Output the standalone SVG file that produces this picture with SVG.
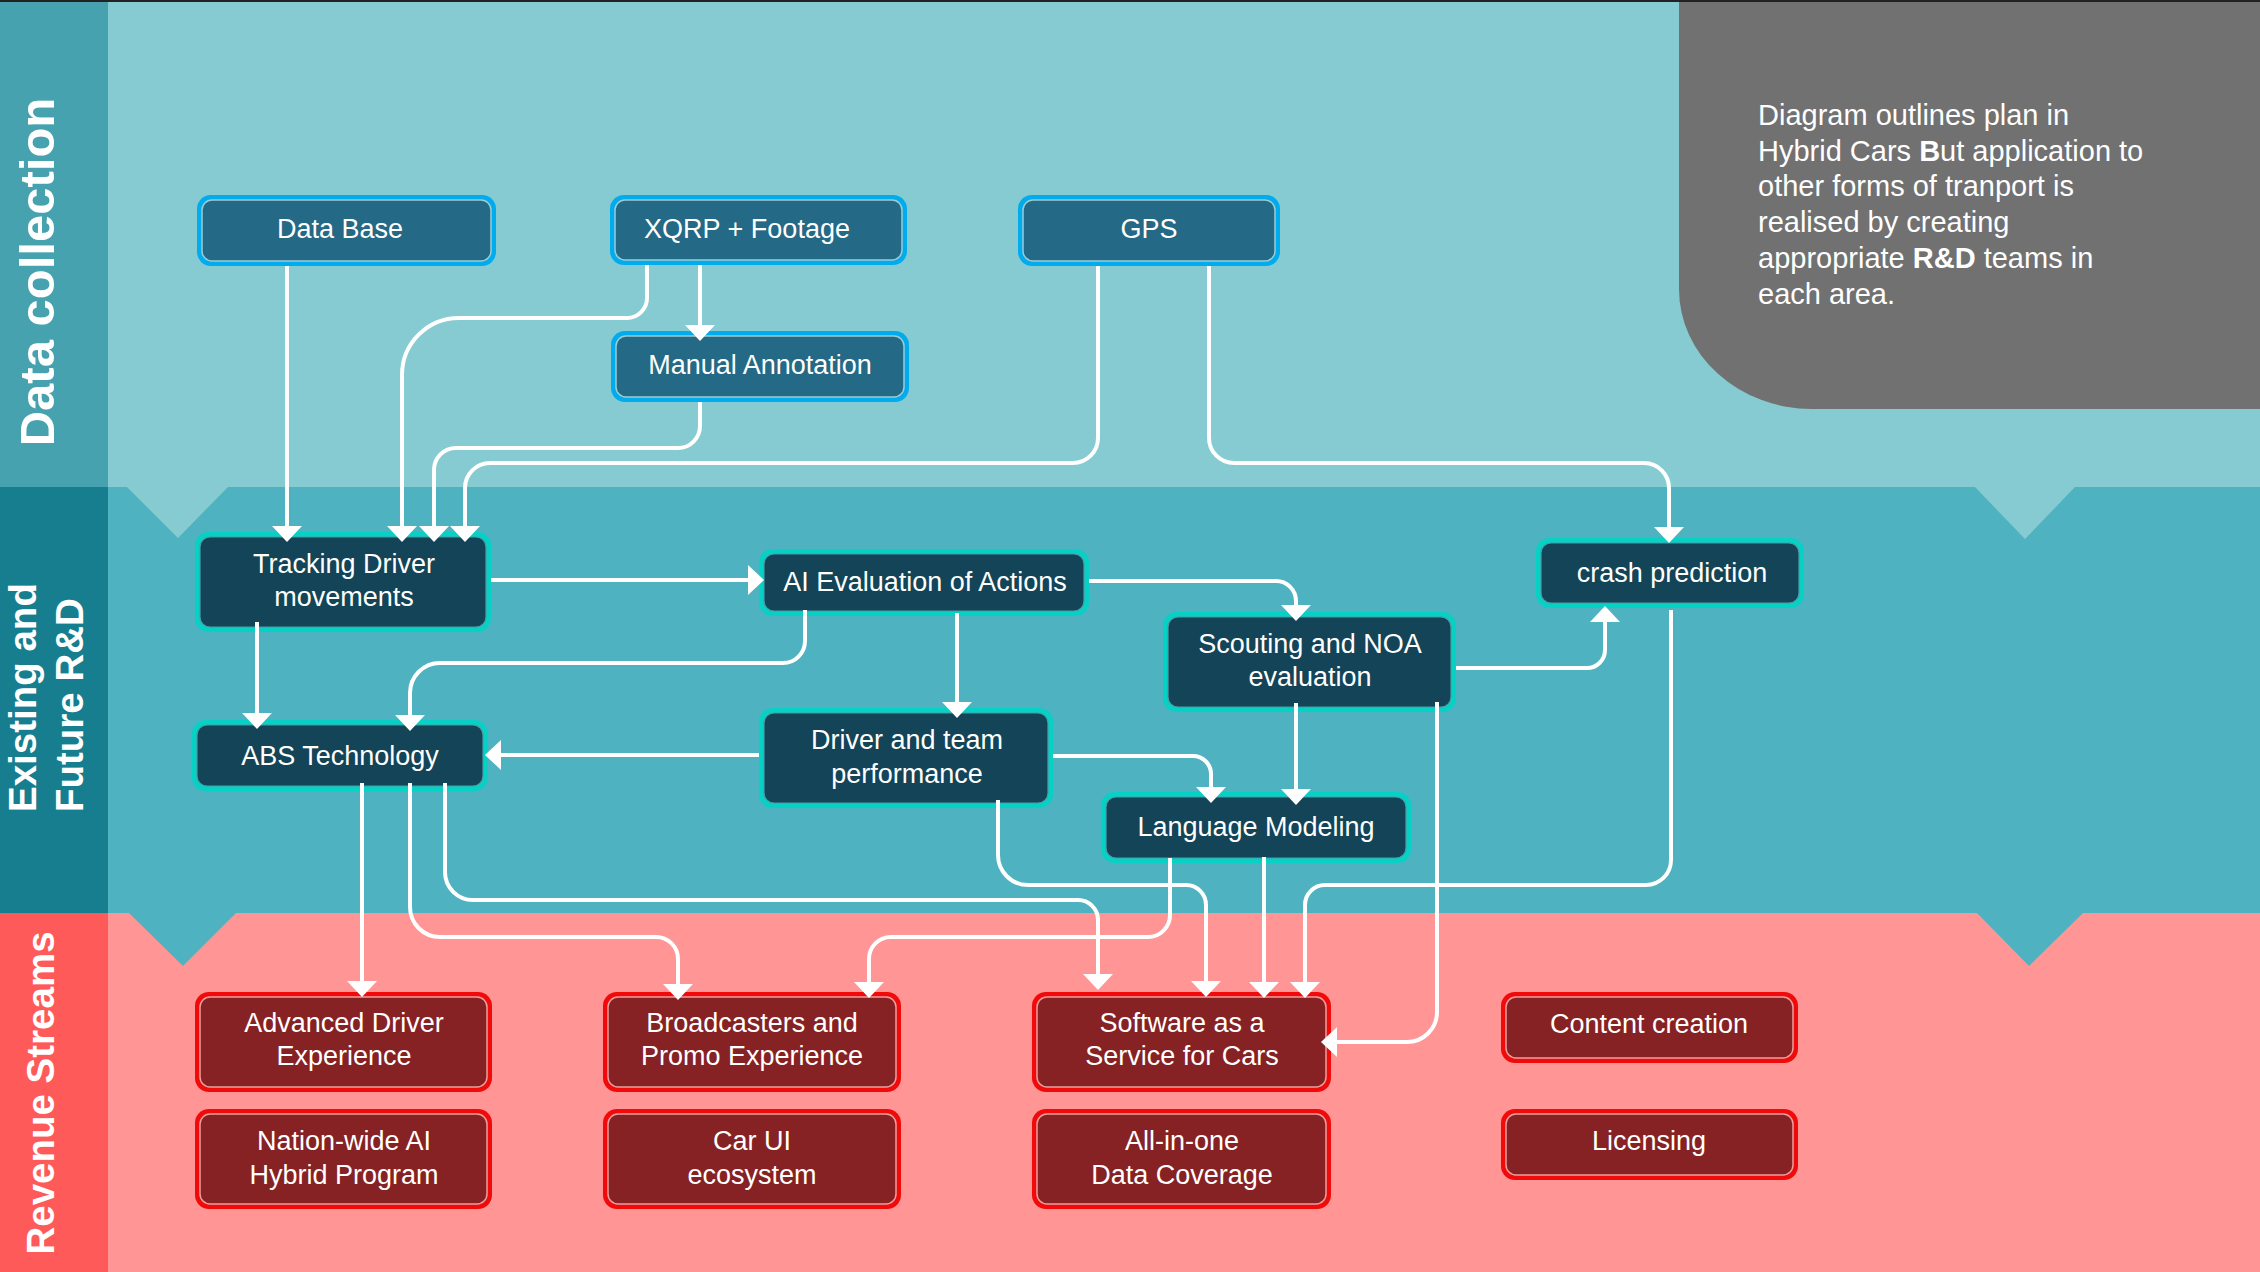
<svg xmlns="http://www.w3.org/2000/svg" width="2260" height="1272" viewBox="0 0 2260 1272">
<defs>
<style>
.lbl{font-family:"Liberation Sans",Arial,sans-serif;font-weight:bold;fill:#fff}
.t{font-family:"Liberation Sans",Arial,sans-serif;font-size:27px;fill:#fff;text-anchor:middle}
.note{font-family:"Liberation Sans",Arial,sans-serif;font-size:29px;fill:#fff}
.dc .o{fill:#00abee}
.dc .i{fill:#246985;stroke:#9ccbd5;stroke-width:1.5}
.rd .o{fill:#05d1c5}
.rd .i{fill:#134457;stroke:#4d9aa5;stroke-width:1.2}
.rv .o{fill:#f00a0a}
.rv .i{fill:#862223;stroke:#eaa0a0;stroke-width:1.5}
.c{fill:none;stroke:#fff;stroke-width:4;marker-end:url(#ah)}
</style>
<marker id="ah" markerUnits="userSpaceOnUse" markerWidth="16" markerHeight="30" refX="8" refY="15" orient="auto" viewBox="0 0 16 30"><path d="M0,0 L16,15 L0,30 Z" fill="#fff"/></marker>
</defs>

<g id="background">
<rect x="0" y="0" width="2260" height="487" fill="#86cbd1"/>
<rect x="0" y="487" width="2260" height="426" fill="#4eb2c0"/>
<rect x="0" y="913" width="2260" height="359" fill="#ff9594"/>
<rect x="0" y="0" width="108" height="487" fill="#45a2ae"/>
<rect x="0" y="487" width="108" height="426" fill="#167e8f"/>
<rect x="0" y="913" width="108" height="359" fill="#ff5a5a"/>
<polygon points="127,487 228,487 178,538" fill="#86cbd1"/>
<polygon points="1975,487 2075,487 2025,539" fill="#86cbd1"/>
<polygon points="129,913 236,913 183,966" fill="#4eb2c0"/>
<polygon points="1977,913 2083,913 2029,966" fill="#4eb2c0"/>
<rect x="0" y="0" width="2260" height="2" fill="#222"/>
<path d="M1679,2 H2260 V409 H1812 A133,120 0 0 1 1679,289 Z" fill="#717171"/>
</g>

<g id="labels">
<text class="lbl" font-size="49" text-anchor="middle" transform="translate(54,272) rotate(-90)">Data collection</text>
<text class="lbl" font-size="38.5" transform="translate(36,812) rotate(-90)">Existing and</text>
<text class="lbl" font-size="38.5" transform="translate(82.7,812) rotate(-90)">Future R&amp;D</text>
<text class="lbl" font-size="38.5" text-anchor="middle" transform="translate(54.3,1093) rotate(-90)">Revenue Streams</text>
</g>

<g id="note">
<text class="note" x="1758" y="125">Diagram outlines plan in</text>
<text class="note" x="1758" y="160.7">Hybrid Cars <tspan font-weight="bold">B</tspan>ut application to</text>
<text class="note" x="1758" y="196.4">other forms of tranport is</text>
<text class="note" x="1758" y="232.1">realised by creating</text>
<text class="note" x="1758" y="267.8">appropriate <tspan font-weight="bold">R&amp;D</tspan> teams in</text>
<text class="note" x="1758" y="303.5">each area.</text>
</g>

<g id="n-database" class="dc"><rect class="o" x="197" y="195" width="299" height="71" rx="14"/><rect class="i" x="202" y="200" width="289" height="61" rx="10"/><text class="t" x="340" y="238">Data Base</text></g>
<g id="n-xqrp" class="dc"><rect class="o" x="610" y="195" width="297" height="70" rx="14"/><rect class="i" x="615" y="200" width="287" height="60" rx="10"/><text class="t" x="747" y="238">XQRP + Footage</text></g>
<g id="n-gps" class="dc"><rect class="o" x="1018" y="195" width="262" height="71" rx="14"/><rect class="i" x="1023" y="200" width="252" height="61" rx="10"/><text class="t" x="1149" y="238">GPS</text></g>
<g id="n-manual" class="dc"><rect class="o" x="611" y="331" width="298" height="71" rx="14"/><rect class="i" x="616" y="336" width="288" height="61" rx="10"/><text class="t" x="760" y="374">Manual Annotation</text></g>

<g id="n-tracking" class="rd"><rect class="o" x="195" y="532" width="296" height="100" rx="14"/><rect class="i" x="200" y="537" width="286" height="90" rx="10"/><text class="t" x="344" y="572.5">Tracking Driver</text><text class="t" x="344" y="605.5">movements</text></g>
<g id="n-ai" class="rd"><rect class="o" x="759" y="549" width="330" height="67" rx="14"/><rect class="i" x="764" y="554" width="320" height="57" rx="10"/><text class="t" x="925" y="590.5">AI Evaluation of Actions</text></g>
<g id="n-scouting" class="rd"><rect class="o" x="1163" y="612" width="293" height="100" rx="14"/><rect class="i" x="1168" y="617" width="283" height="90" rx="10"/><text class="t" x="1310" y="653">Scouting and NOA</text><text class="t" x="1310" y="686">evaluation</text></g>
<g id="n-crash" class="rd"><rect class="o" x="1536" y="538" width="268" height="70" rx="14"/><rect class="i" x="1541" y="543" width="258" height="60" rx="10"/><text class="t" x="1672" y="582">crash prediction</text></g>
<g id="n-abs" class="rd"><rect class="o" x="192" y="720" width="296" height="71" rx="14"/><rect class="i" x="197" y="725" width="286" height="61" rx="10"/><text class="t" x="340" y="764.5">ABS Technology</text></g>
<g id="n-driver" class="rd"><rect class="o" x="759" y="708" width="294" height="100" rx="14"/><rect class="i" x="764" y="713" width="284" height="90" rx="10"/><text class="t" x="907" y="749.3">Driver and team</text><text class="t" x="907" y="783">performance</text></g>
<g id="n-language" class="rd"><rect class="o" x="1101" y="792" width="310" height="71" rx="14"/><rect class="i" x="1106" y="797" width="300" height="61" rx="10"/><text class="t" x="1256" y="836">Language Modeling</text></g>

<g id="n-advanced" class="rv"><rect class="o" x="195" y="992" width="297" height="100" rx="14"/><rect class="i" x="200" y="997" width="287" height="90" rx="10"/><text class="t" x="344" y="1032">Advanced Driver</text><text class="t" x="344" y="1065">Experience</text></g>
<g id="n-broadcasters" class="rv"><rect class="o" x="603" y="992" width="298" height="100" rx="14"/><rect class="i" x="608" y="997" width="288" height="90" rx="10"/><text class="t" x="752" y="1032">Broadcasters and</text><text class="t" x="752" y="1065">Promo Experience</text></g>
<g id="n-software" class="rv"><rect class="o" x="1032" y="992" width="299" height="100" rx="14"/><rect class="i" x="1037" y="997" width="289" height="90" rx="10"/><text class="t" x="1182" y="1032">Software as a</text><text class="t" x="1182" y="1065">Service for Cars</text></g>
<g id="n-content" class="rv"><rect class="o" x="1501" y="992" width="297" height="71" rx="14"/><rect class="i" x="1506" y="997" width="287" height="61" rx="10"/><text class="t" x="1649" y="1033">Content creation</text></g>
<g id="n-nationwide" class="rv"><rect class="o" x="195" y="1109" width="297" height="100" rx="14"/><rect class="i" x="200" y="1114" width="287" height="90" rx="10"/><text class="t" x="344" y="1150">Nation-wide AI</text><text class="t" x="344" y="1183.5">Hybrid Program</text></g>
<g id="n-carui" class="rv"><rect class="o" x="603" y="1109" width="298" height="100" rx="14"/><rect class="i" x="608" y="1114" width="288" height="90" rx="10"/><text class="t" x="752" y="1150">Car UI</text><text class="t" x="752" y="1183.5">ecosystem</text></g>
<g id="n-allinone" class="rv"><rect class="o" x="1032" y="1109" width="299" height="100" rx="14"/><rect class="i" x="1037" y="1114" width="289" height="90" rx="10"/><text class="t" x="1182" y="1150">All-in-one</text><text class="t" x="1182" y="1183.5">Data Coverage</text></g>
<g id="n-licensing" class="rv"><rect class="o" x="1501" y="1109" width="297" height="71" rx="14"/><rect class="i" x="1506" y="1114" width="287" height="61" rx="10"/><text class="t" x="1649" y="1150">Licensing</text></g>

<g id="connectors">
<path class="c" d="M287,266 V534"/>
<path class="c" d="M647,265 V298 A20,20 0 0 1 627,318 H459 A57,57 0 0 0 402,375 V534"/>
<path class="c" d="M700,265 V333"/>
<path class="c" d="M700,402 V426 A22,22 0 0 1 678,448 H456 A22,22 0 0 0 434,470 V534"/>
<path class="c" d="M1098,266 V438 A25,25 0 0 1 1073,463 H490 A25,25 0 0 0 465,488 V534"/>
<path class="c" d="M1209,266 V438 A25,25 0 0 0 1234,463 H1644 A25,25 0 0 1 1669,488 V535"/>
<path class="c" d="M491,580 H756"/>
<path class="c" d="M257,622 V721"/>
<path class="c" d="M805,610 V641 A22,22 0 0 1 783,663 H440 A30,30 0 0 0 410,693 V723"/>
<path class="c" d="M957,613 V710"/>
<path class="c" d="M759,755 H493"/>
<path class="c" d="M1089,581 H1276 A20,20 0 0 1 1296,601 V613"/>
<path class="c" d="M1456,668 H1587 A18,18 0 0 0 1605,650 V614"/>
<path class="c" d="M1296,703 V797"/>
<path class="c" d="M1053,756 H1193 A18,18 0 0 1 1211,774 V795"/>
<path class="c" d="M1437,702 V1012 A30,30 0 0 1 1407,1042 H1329"/>
<path class="c" d="M1671,610 V860 A25,25 0 0 1 1646,885 H1325 A20,20 0 0 0 1305,905 V990"/>
<path class="c" d="M1264,857 V990"/>
<path class="c" d="M1170,858 V915 A22,22 0 0 1 1148,937 H891 A22,22 0 0 0 869,959 V990"/>
<path class="c" d="M998,800 V855 A30,30 0 0 0 1028,885 H1186 A20,20 0 0 1 1206,905 V989"/>
<path class="c" d="M445,783 V872 A28,28 0 0 0 473,900 H1078 A20,20 0 0 1 1098,920 V982"/>
<path class="c" d="M410,783 V907 A30,30 0 0 0 440,937 H656 A22,22 0 0 1 678,959 V992"/>
<path class="c" d="M362,783 V989"/>
</g>
</svg>
